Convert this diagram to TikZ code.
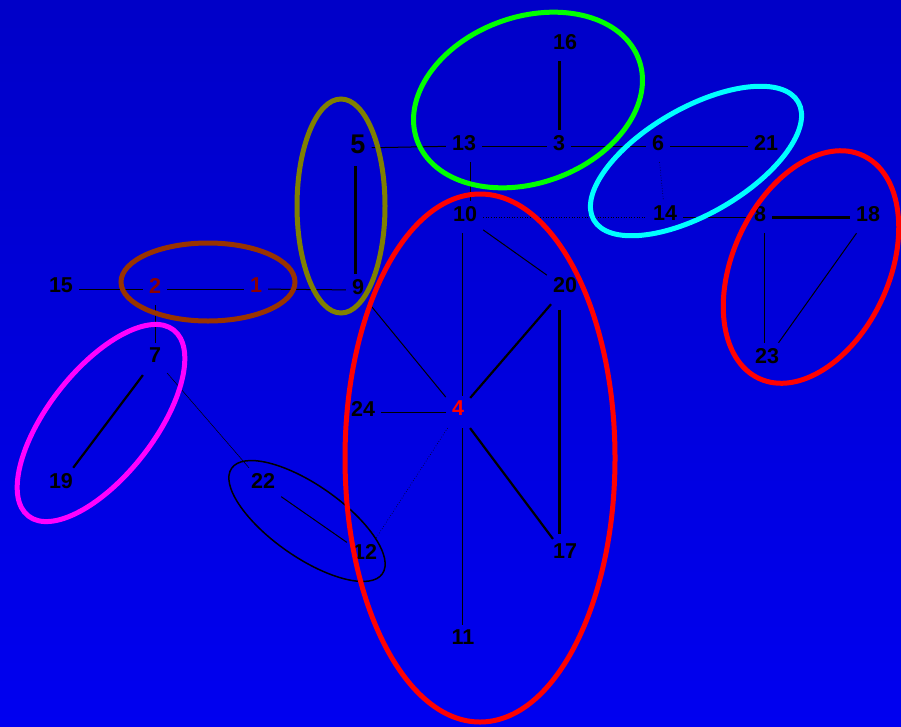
\documentclass[tikz,border=0pt]{standalone}
\usepackage{fontspec}
\setmainfont{Liberation Sans}
\definecolor{bgtop}{RGB}{0,0,200}
\definecolor{bgbot}{RGB}{0,0,240}
\definecolor{lab}{RGB}{140,0,0}
\definecolor{brn}{RGB}{153,51,0}
\definecolor{olv}{RGB}{128,128,0}
\definecolor{grn}{RGB}{0,255,0}
\definecolor{cyn}{RGB}{0,255,255}
\definecolor{mgt}{RGB}{255,0,255}
\begin{document}
\begin{tikzpicture}[x=1pt,y=-1pt,
  v/.style={font=\fontsize{21.5}{24}\selectfont\bfseries,text depth=7pt,inner xsep=6pt,inner ysep=5pt},
  e/.style={line width=1pt},
  ew/.style={line width=0.5pt},
  ed/.style={line width=0.6pt,dotted},
  em/.style={line width=2.2pt},
  eb/.style={line width=3pt},
  ring/.style={line width=5pt}]
  \shade[top color=bgtop,bottom color=bgbot] (0,0) rectangle (901,726);
  \useasboundingbox (0,0) rectangle (901,726);
  % vertices
  \node[v] (n16) at (565,45) {16};
  \node[v,font=\fontsize{27}{30}\selectfont\bfseries] (n5) at (358,148) {5};
  \node[v] (n13) at (464,146) {13};
  \node[v] (n3) at (559,146) {3};
  \node[v] (n6) at (658,146) {6};
  \node[v] (n21) at (766,146) {21};
  \node[v] (n10) at (465,217) {10};
  \node[v] (n14) at (665,217) {14};
  \node[v] (n8) at (760,217) {8};
  \node[v] (n18) at (868,217) {18};
  \node[v] (n15) at (61,289) {15};
  \node[v,text=lab] (n2) at (155,289) {2};
  \node[v,text=lab] (n1) at (256,289) {1};
  \node[v] (n9) at (358,290) {9};
  \node[v] (n20) at (565,288) {20};
  \node[v] (n7) at (155,359) {7};
  \node[v] (n23) at (767,359) {23};
  \node[v] (n24) at (363,412) {24};
  \node[v,text=red] (n4) at (458,412) {4};
  \node[v] (n19) at (61,484) {19};
  \node[v] (n22) at (263,484) {22};
  \node[v] (n12) at (365,555) {12};
  \node[v] (n17) at (565,555) {17};
  \node[v] (n11) at (463,641) {11};
  % edges
  \draw[e] (n15) -- (n2);
  \draw[e] (n2) -- (n1);
  \draw[e] (n1) -- (n9);
  \draw[e] (n2) -- (n7);
  \draw[eb] ([xshift=-3pt]n5.south) -- ([xshift=-3pt]n9.north);
  \draw[e] (n5) -- (n13);
  \draw[e] (n13) -- (n3);
  \draw[e] (n3) -- (n6);
  \draw[e] (n6) -- (n21);
  \draw[eb] ([xshift=-6pt]n16.south) -- (n3.north);
  \draw[e] ([xshift=6pt]n13.south) -- ([xshift=5pt]n10.north);
  \draw[ed] (n10) -- (n14);
  \draw[ed] (n6) -- (n14);
  \draw[e] (n14) -- (n8);
  \draw[eb] (n8) -- (n18);
  \draw[e] ([xshift=4pt]n8.south) -- ([xshift=-3pt]n23.north);
  \draw[e] (n18) -- (n23);
  \draw[e] (n10) -- (n20);
  \draw[e] ([xshift=-3pt]n10.south) -- ([xshift=4pt]n4.north);
  \draw[e] (n9) -- (n4);
  \draw[em] (n20) -- (n4);
  \draw[eb,shorten <=6pt,shorten >=5pt] ([xshift=-6pt]n20.south) -- ([xshift=-6pt]n17.north);
  \draw[em] (n4) -- (n17);
  \draw[e] (n4) -- (n24);
  \draw[ed] (n4) -- (n12);
  \draw[e] ([xshift=4pt]n4.south) -- ([xshift=-1pt]n11.north);
  \draw[ew] (n7) -- (n22);
  \draw[em] (n7) -- (n19);
  \draw[e] (n22) -- (n12);
  % clusters
  \draw[line width=1.5pt,rotate around={-35:(307,521)}] (307,521) ellipse [x radius=92pt,y radius=36pt];
  \draw[ring,olv] (341,206) ellipse [x radius=44pt,y radius=107pt];
  \draw[ring,brn] (208,282) ellipse [x radius=87pt,y radius=39pt];
  \draw[ring,mgt,rotate around={52:(101,423)}] (101,423) ellipse [x radius=118pt,y radius=53pt];
  \draw[ring,grn,rotate around={20:(528,100)}] (528,100) ellipse [x radius=118pt,y radius=83pt];
  \draw[ring,cyn,rotate around={30:(696,161)}] (696,161) ellipse [x radius=118pt,y radius=53pt];
  \draw[ring,red] (480,458) ellipse [x radius=135pt,y radius=264pt];
  \draw[ring,red,rotate around={65:(811,267)}] (811,267) ellipse [x radius=123pt,y radius=78pt];
\end{tikzpicture}
\end{document}
